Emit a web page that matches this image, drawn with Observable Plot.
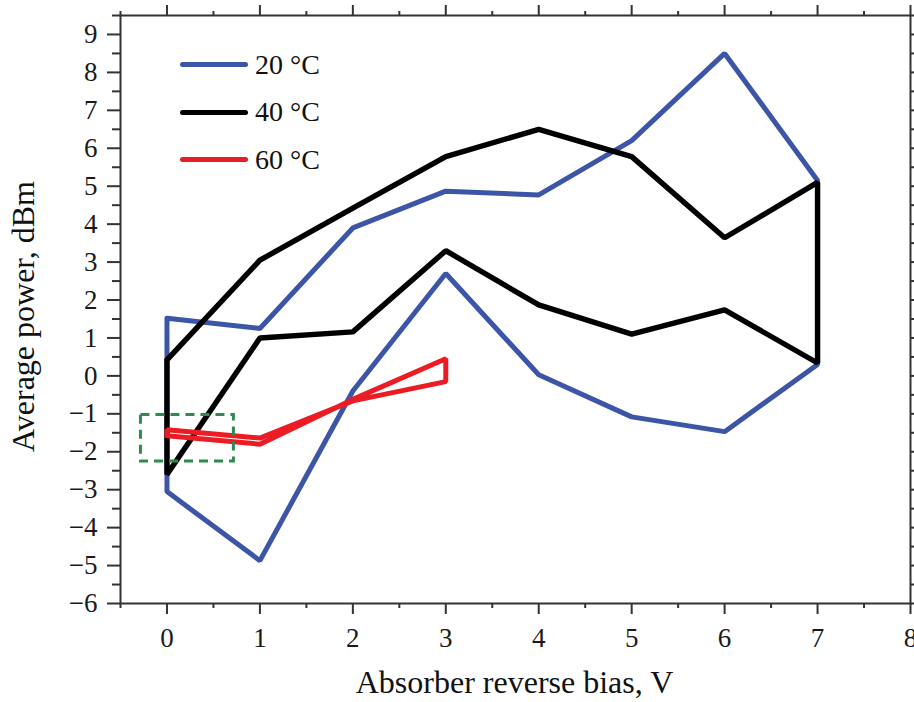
<!DOCTYPE html>
<html>
<head>
<meta charset="utf-8">
<script src="https://cdn.jsdelivr.net/npm/d3@7"></script>
<script src="https://cdn.jsdelivr.net/npm/@observablehq/plot@0.6"></script>
<style>
  body { margin: 0; background: #fff; }
  #wrap { position: relative; width: 914px; height: 702px; font-family: "Liberation Serif", serif; }
  #legend { position: absolute; left: 180px; top: 41px; }
  .item { display: flex; align-items: center; height: 47.5px; }
  .swatch { width: 68px; height: 5px; border-radius: 3px; margin-right: 7px; }
  .lab { font-size: 28px; color: #111; line-height: 1; }
</style>
</head>
<body>
<div id="wrap">
  <div id="legend"></div>
</div>
<script>
// Bias points (V) swept up and back down
const bias = [0, 1, 2, 3, 4, 5, 6, 7];

// 20 °C: upper and lower branch (dBm)
const up20 = [1.52, 1.25, 3.9, 4.87, 4.77, 6.2, 8.5, 5.15];
const down20 = [-3.05, -4.87, -0.4, 2.7, 0.03, -1.08, -1.47, 0.3];

// 40 °C
const up40 = [0.42, 3.05, 4.42, 5.78, 6.5, 5.78, 3.64, 5.1];
const down40 = [-2.6, 1.0, 1.16, 3.3, 1.87, 1.1, 1.74, 0.34];

// 60 °C (only up to 3 V)
const bias60 = [0, 1, 2, 3];
const up60 = [-1.58, -1.8, -0.62, 0.45];
const down60 = [-1.42, -1.64, -0.66, -0.15];

const series = [
  { name: "20 °C", color: "#3c55a6", width: 5, xs: bias, a: up20, b: down20 },
  { name: "40 °C", color: "#000000", width: 5.4, xs: bias, a: up40, b: down40 },
  { name: "60 °C", color: "#ec1c24", width: 5, xs: bias60, a: up60, b: down60 }
];

// Dashed highlight box around the low-bias region
const boxX = [-0.28, 0.72];
const boxY = [-2.26, -1.03];

// Tick values
const xMajor = d3.range(0, 9);
const xMinor = d3.range(-0.5, 8.01, 0.5).filter(v => !Number.isInteger(v));
const yMajor = d3.range(-6, 10);
const yMinor = d3.range(-5.5, 9.51, 0.5).filter(v => !Number.isInteger(v));

// Closed loop: forward along one branch, back along the other
function loop(s) {
  const fwd = s.xs.map((x, i) => ({ x, y: s.a[i] }));
  const back = s.xs.map((x, i) => ({ x, y: s.b[i] })).reverse();
  return [...fwd, ...back, fwd[0]];
}

const lines = series.map(s => Plot.line(loop(s), {
  x: "x", y: "y", stroke: s.color, strokeWidth: s.width,
  strokeLinejoin: "miter", curve: "linear"
}));

const tickFont = 27;
const tickColor = "#333";

const chart = Plot.plot({
  width: 914,
  height: 702,
  marginLeft: 120,
  marginRight: 4,
  marginTop: 15,
  marginBottom: 99,
  x: { domain: [-0.5, 8] },
  y: { domain: [-6, 9.5] },
  style: { fontFamily: "Liberation Serif", background: "white", color: "#1a1a1a" },
  marks: [
    ...lines,
    Plot.rect([{ x1: boxX[0], x2: boxX[1], y1: boxY[0], y2: boxY[1] }], {
      x1: "x1", x2: "x2", y1: "y1", y2: "y2",
      fill: "none", stroke: "#2e8b4f", strokeWidth: 3, strokeDasharray: "9,6"
    }),
    Plot.frame({ stroke: tickColor, strokeWidth: 2 }),
    // bottom axis
    Plot.axisX(xMajor, { anchor: "bottom", tickSize: 11, tickPadding: 13, fontSize: tickFont, stroke: tickColor, strokeWidth: 2, label: null }),
    Plot.axisX(xMinor, { anchor: "bottom", tickSize: 5, fill: null, stroke: tickColor, strokeWidth: 2, label: null }),
    // top axis
    Plot.axisX(xMajor, { anchor: "top", tickSize: 11, fill: null, stroke: tickColor, strokeWidth: 2, label: null }),
    Plot.axisX(xMinor, { anchor: "top", tickSize: 5, fill: null, stroke: tickColor, strokeWidth: 2, label: null }),
    // left axis
    Plot.axisY(yMajor, { anchor: "left", tickSize: 13, tickPadding: 10, fontSize: tickFont, stroke: tickColor, strokeWidth: 2, label: null }),
    Plot.axisY(yMinor, { anchor: "left", tickSize: 8, fill: null, stroke: tickColor, strokeWidth: 2, label: null }),
    // right axis
    Plot.axisY(yMajor, { anchor: "right", tickSize: 8, fill: null, stroke: tickColor, strokeWidth: 2, label: null }),
    Plot.axisY(yMinor, { anchor: "right", tickSize: 8, fill: null, stroke: tickColor, strokeWidth: 2, label: null }),
    // axis titles
    Plot.text(["Absorber reverse bias, V"], {
      text: d => d, frameAnchor: "bottom", dy: 89, dx: -1, fontSize: 32, fill: "#111"
    }),
    Plot.text(["Average power, dBm"], {
      text: d => d, frameAnchor: "left", textAnchor: "middle", rotate: -90,
      dx: -97, dy: 7, fontSize: 32, fill: "#111"
    })
  ]
});

const wrap = document.getElementById("wrap");
wrap.insertBefore(chart, wrap.firstChild);

// Legend drawn over the plot area
const legend = document.getElementById("legend");
for (const s of series) {
  const item = document.createElement("div");
  item.className = "item";
  item.innerHTML = `<div class="swatch" style="background:${s.color}"></div><span class="lab">${s.name}</span>`;
  legend.appendChild(item);
}
</script>
</body>
</html>
